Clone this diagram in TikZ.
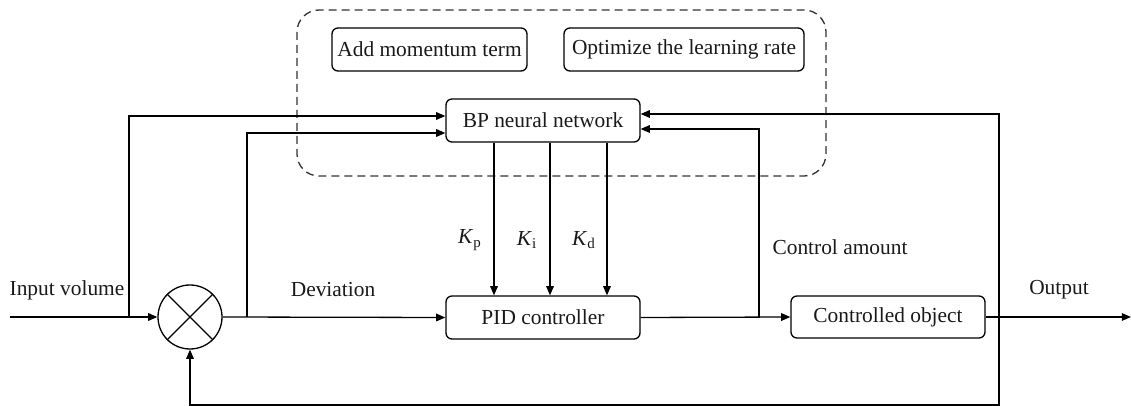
\documentclass[tikz,border=0pt]{standalone}
\usepackage{fontspec}
\setmainfont{Liberation Serif}
\usetikzlibrary{arrows.meta,calc}
\begin{document}
\begin{tikzpicture}[x=0.5pt,y=-0.5pt,
  line width=0.65pt,
  every node/.style={font=\fontsize{10.7}{12.5}\selectfont, text=black!90},
  blk/.style={draw, rounded corners=3pt, inner sep=0pt},
  arr/.style={-{Triangle[length=4.6pt,width=3.8pt]}},
  wire/.style={draw=black!85},
  lbl/.style={inner sep=0pt}]
\useasboundingbox (0,0) rectangle (1131,406);
% dashed frame
\draw[dashed, dash pattern=on 4pt off 2.5pt, rounded corners=11pt, draw=black!80] (297,10) rectangle (826,176);
% blocks
\node[blk, minimum width=97.5pt, minimum height=21.5pt] (add) at (429.5,49.5) {Add momentum term};
\node[blk, minimum width=120pt, minimum height=21.5pt] (opt) at (684,49.5) {Optimize the learning rate};
\node[blk, minimum width=97pt, minimum height=21.5pt] (bp) at (543,120.5) {BP neural network};
\node[blk, minimum width=97pt, minimum height=21.5pt] (pid) at (543,317.5) {PID controller};
\node[blk, minimum width=97pt, minimum height=21pt] (obj) at (888,317) {Controlled object};
\node[draw, circle, minimum size=32pt, inner sep=0pt] (sum) at (190,317) {};
\draw (sum.north west) -- (sum.south east) (sum.north east) -- (sum.south west);
% coordinates
\coordinate (in) at (10,317);
\coordinate (out) at (1131,317);
\coordinate (j1) at (129,317);
\coordinate (j2) at (247,317);
\coordinate (j3) at (759,317);
\coordinate (j4) at (999,317);
\coordinate (fb) at (999,405);
% connectors
\draw[arr] (in) -- (sum.west);
\draw[arr] (sum.east) -- (pid.west);
\draw[arr] (j1) |- (bp.west |- 0,116);
\draw[arr] (j2) |- (bp.west |- 0,133);
\draw[arr] (bp.south -| 494,0) -- (pid.north -| 494,0);
\draw[arr] (bp.south -| 550,0) -- (pid.north -| 550,0);
\draw[arr] (bp.south -| 607,0) -- (pid.north -| 607,0);
\draw[arr] (pid.east) -- (obj.west);
\draw[arr] (j3) |- (bp.east |- 0,129);
\draw[arr] (obj.east) -- (out);
\draw[arr] (j4) |- (bp.east |- 0,114);
\draw[arr] (j4) -- (fb) -| (sum.south);
% labels
\node[lbl] (linput) at (67,290) {Input volume};
\node[lbl] (ldev) at (333,290) {Deviation};
\node[lbl] (lkp) at (470,240) {\textit{K}\textsubscript{p}};
\node[lbl] (lki) at (527,240) {\textit{K}\textsubscript{i}};
\node[lbl] (lkd) at (584,240) {\textit{K}\textsubscript{d}};
\node[lbl] (lctl) at (840,247) {Control amount};
\node[lbl] (lout) at (1059,290) {Output};
\end{tikzpicture}
\end{document}
